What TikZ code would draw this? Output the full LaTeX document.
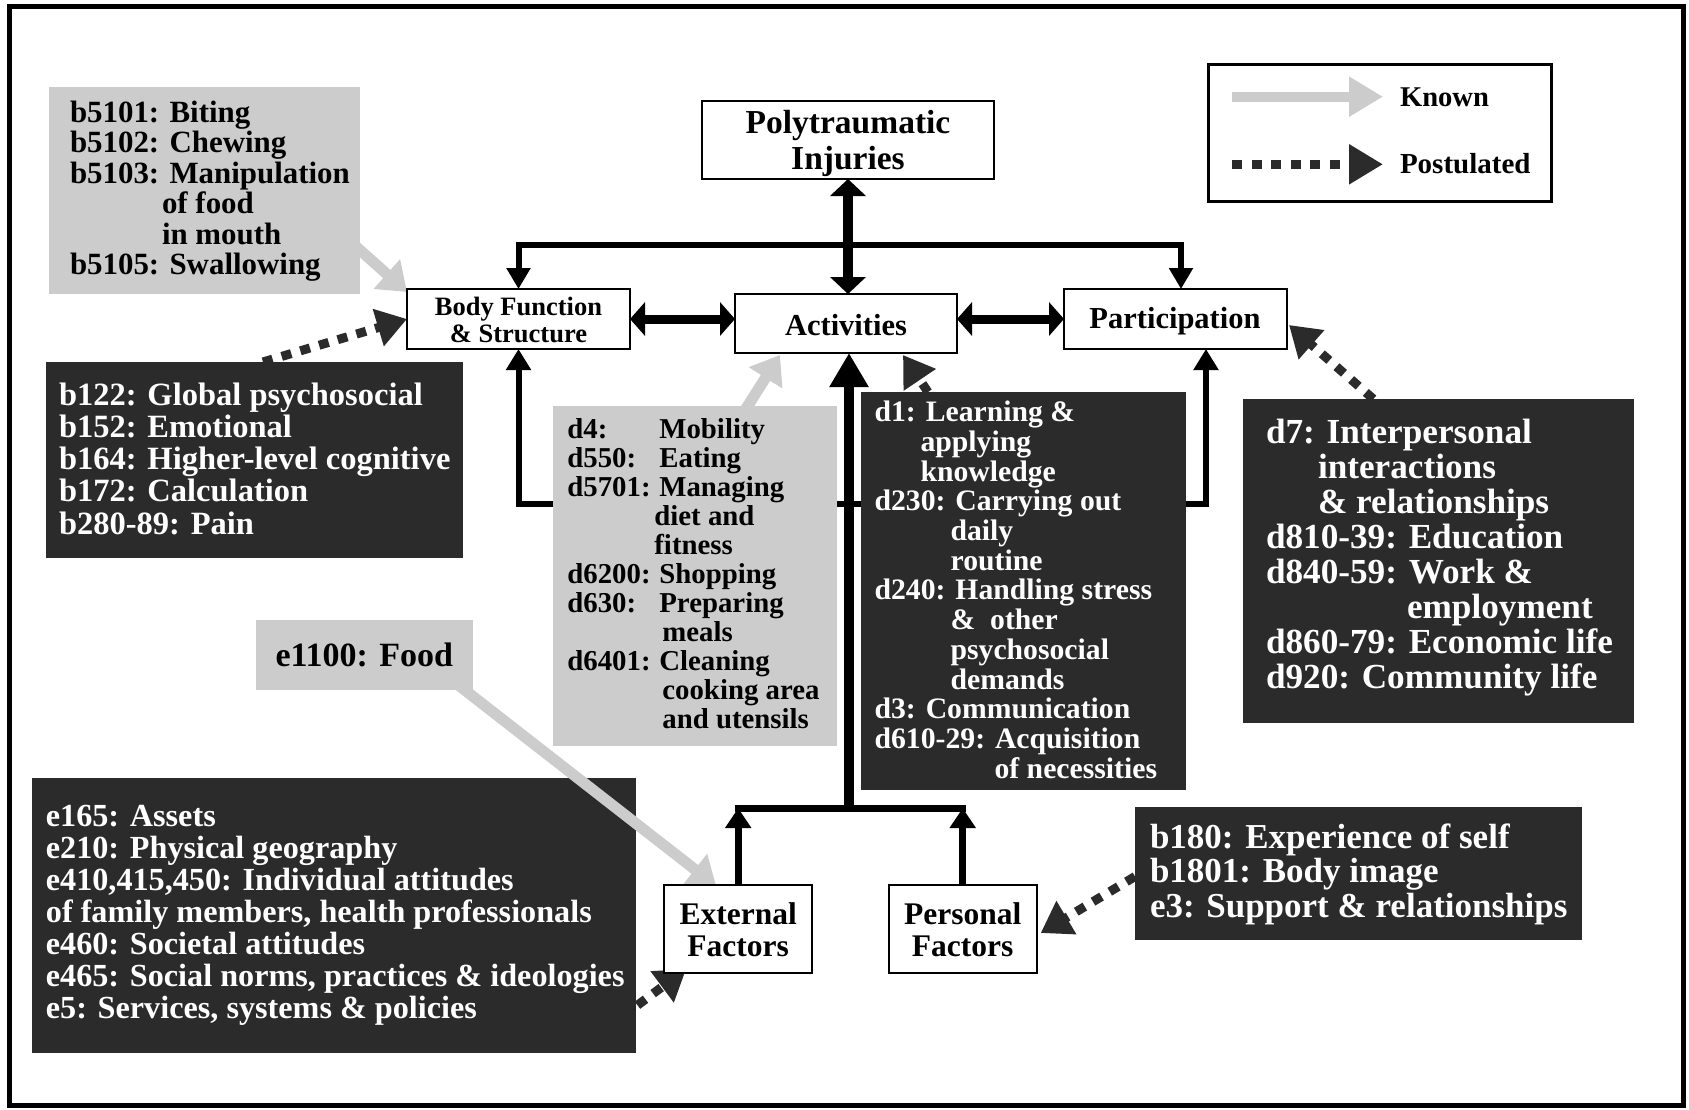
\documentclass[tikz,border=0pt]{standalone}
\usepackage{fontspec}
\setmainfont{Liberation Serif}
\usetikzlibrary{arrows.meta,calc}
\definecolor{dk}{HTML}{2B2B2B}
\definecolor{lg}{HTML}{CCCCCC}
\newcommand{\TL}[1]{\begin{tabular}[t]{@{}l@{}}#1\end{tabular}}
\newcommand{\TC}[1]{\begin{tabular}[t]{@{}c@{}}#1\end{tabular}}
\newcommand{\ind}[1]{\hspace*{#1pt}}
\newcommand{\lab}[2]{\makebox[#1pt][l]{#2}}
\pgfdeclarelayer{Lbg}
\pgfdeclarelayer{Lzero}
\pgfdeclarelayer{Lone}
\pgfdeclarelayer{Ltwo}
\pgfsetlayers{Lbg,Lzero,Lone,Ltwo,main}
\begin{document}
\begin{tikzpicture}[x=1pt,y=-1pt,
  wbox/.style={draw=black, line width=2pt, fill=white, inner sep=0pt, outer sep=0pt, anchor=north west},
  dbox/.style={fill=dk, inner sep=0pt, outer sep=0pt, anchor=north west},
  gbox/.style={fill=lg, inner sep=0pt, outer sep=0pt, anchor=north west},
  lt/.style={inner sep=0pt, outer sep=0pt, anchor=base west},
  ct/.style={inner sep=0pt, outer sep=0pt, anchor=base},
  fs/.style 2 args={font=\fontsize{#1}{#2}\selectfont\bfseries},
  known/.style={draw=lg, line width=11pt, -{Triangle[length=27pt,width=38pt]}},
  post/.style={draw=dk, line width=9pt, dash pattern=on 10pt off 9.5pt, -{Triangle[length=30pt,width=37pt]}},
]
\useasboundingbox (0,0) rectangle (1689,1109);
\begin{pgfonlayer}{Lbg}
\fill[white] (0,0) rectangle (1689,1109);
\draw[line width=5pt] (9,6) rectangle (1683,1105);
\end{pgfonlayer}

% ---------- white boxes (main layer) ----------
\node[wbox, line width=2.5pt, minimum width=292pt, minimum height=78pt] (poly) at (702,101) {};
\node[ct, fs={33.5}{36}] (polyt) at (848,133.3) {\TC{Polytraumatic\\Injuries}};
\node[wbox, minimum width=223pt, minimum height=60pt] (bf) at (407,289) {};
\node[ct, fs={26.5}{27}] (bft) at (518.5,315) {\TC{Body Function\\\& Structure}};
\node[wbox, minimum width=222pt, minimum height=59pt] (act) at (735,294) {};
\node[ct, fs={30.5}{30}] (actt) at (846,335) {Activities};
\node[wbox, minimum width=223pt, minimum height=60pt] (part) at (1064,289) {};
\node[ct, fs={30.5}{30}] (partt) at (1175,328.3) {Participation};
\node[wbox, minimum width=148pt, minimum height=88pt] (ext) at (664.2,885) {};
\node[ct, fs={31.5}{32.4}] (extt) at (738.2,924.3) {\TC{External\\Factors}};
\node[wbox, minimum width=148pt, minimum height=88pt] (pers) at (888.7,885) {};
\node[ct, fs={31.5}{32.4}] (perst) at (962.7,924.3) {\TC{Personal\\Factors}};

% legend
\node[draw=black, line width=3pt, inner sep=0pt, outer sep=0pt, anchor=north west, minimum width=343pt, minimum height=137pt] (legend) at (1208,64) {};
\coordinate (k1) at (1232,96.7);
\coordinate (k2) at (1383,96.7);
\coordinate (p1) at (1232,164.3);
\coordinate (p2) at (1383,164.3);
\draw[known, line width=10pt, -{Triangle[length=34pt,width=38pt]}] (k1) -- (k2);
\draw[post, -{Triangle[length=34pt,width=38pt]}] (p1) -- (p2);
\node[lt, fs={28.6}{30}] (kt) at (1400,106.7) {Known};
\node[lt, fs={29}{30}] (pt) at (1400,173.3) {Postulated};

% ---------- gray / dark boxes ----------
\begin{pgfonlayer}{Lone}
\node[gbox, minimum width=311pt, minimum height=207pt] (b51) at (49,87) {};
\node[lt, fs={30.9}{30.2}] (b51t) at (70,122) {\TL{b5101: Biting\\ b5102: Chewing\\ b5103: Manipulation\\ \ind{92}of food\\ \ind{92}in mouth\\ b5105: Swallowing}};

\node[dbox, minimum width=417pt, minimum height=196pt] (b122) at (46,362) {};
\node[lt, text=white, fs={32.5}{32.3}] (b122t) at (59,405) {\TL{b122: Global psychosocial\\ b152: Emotional\\ b164: Higher-level cognitive\\ b172: Calculation\\ b280-89: Pain}};

\node[gbox, minimum width=284pt, minimum height=340pt] (d4) at (552.6,406) {};
\node[lt, fs={28.8}{29}] (d4t) at (567.4,438.3) {\TL{\lab{92}{d4:}Mobility\\ \lab{92}{d550:}Eating\\ \lab{92}{d5701:}Managing\\ \ind{87}diet and\\ \ind{87}fitness\\ \lab{92}{d6200:}Shopping\\ \lab{92}{d630:}Preparing\\ \ind{95}meals\\ \lab{92}{d6401:}Cleaning\\ \ind{95}cooking area\\ \ind{95}and utensils}};

\node[dbox, minimum width=325pt, minimum height=398pt] (d1) at (861,392) {};
\node[lt, text=white, fs={29.7}{29.7}] (d1t) at (874.6,421.7) {\TL{d1: Learning \&\\ \ind{46}applying\\ \ind{46}knowledge\\ d230: Carrying out\\ \ind{76}daily\\ \ind{76}routine\\ d240: Handling stress\\ \ind{76}\&\ \ other\\ \ind{76}psychosocial\\ \ind{76}demands\\ d3: Communication\\ d610-29: Acquisition\\ \ind{120}of necessities}};

\node[dbox, minimum width=391pt, minimum height=324pt] (d7) at (1243.3,399) {};
\node[lt, text=white, fs={35.2}{35}] (d7t) at (1266,443.3) {\TL{d7: Interpersonal\\ \ind{52}interactions\\ \ind{52}\& relationships\\ d810-39: Education\\ d840-59: Work \&\\ \ind{141}employment\\ d860-79: Economic life\\ d920: Community life}};

\node[gbox, minimum width=217pt, minimum height=70pt] (e11) at (256,620) {};
\node[lt, fs={34}{34}] (e11t) at (275.5,666.7) {e1100: Food};

\node[dbox, minimum width=604pt, minimum height=275pt] (ebox) at (31.5,777.7) {};
\node[lt, text=white, fs={32.2}{31.9}] (eboxt) at (45.9,826.7) {\TL{e165: Assets\\ e210: Physical geography\\ e410,415,450: Individual attitudes\\ of family members, health professionals\\ e460: Societal attitudes\\ e465: Social norms, practices \& ideologies\\ e5: Services, systems \& policies}};

\node[dbox, minimum width=447pt, minimum height=133pt] (b180) at (1135,807) {};
\node[lt, text=white, fs={35}{34}] (b180t) at (1150,848.3) {\TL{b180: Experience of self\\ b1801: Body image\\ e3: Support \& relationships}};
\end{pgfonlayer}

% ---------- black connectors ----------
\coordinate (topbar) at (1181,245);
\coordinate (midbar) at (1206,504);
\coordinate (botbar) at (849,808);
\begin{pgfonlayer}{Lzero}
\draw[line width=10pt, {Triangle[length=17pt,width=35pt]}-{Triangle[length=17pt,width=35pt]}] (poly.south) -- (poly.south |- act.north);
\draw[line width=6pt, {Triangle[length=21pt,width=23pt]}-{Triangle[length=21pt,width=23pt]}] (bf.north) |- (topbar) -- (topbar |- part.north);
\draw[line width=9pt, {Triangle[length=15pt,width=33pt]}-{Triangle[length=15pt,width=33pt]}] (bf.east) -- (bf.east -| act.west);
\draw[line width=9pt, {Triangle[length=15pt,width=33pt]}-{Triangle[length=15pt,width=33pt]}] (part.west -| act.east) -- (part.west);
\draw[line width=6pt, {Triangle[length=21pt,width=24pt]}-{Triangle[length=21pt,width=24pt]}] (bf.south) |- (midbar) -- (midbar |- part.south);
\draw[line width=7pt, -{Triangle[length=20pt,width=25pt]}] (ext.north) -- (ext.north |- botbar);
\draw[line width=7pt, -{Triangle[length=20pt,width=25pt]}] (pers.north) -- (pers.north |- botbar);
\draw[line width=7pt, line cap=rect] (ext.north |- botbar) -- (pers.north |- botbar);
\draw[line width=10pt, -{Triangle[length=34pt,width=37pt]}] (botbar) -- (botbar |- act.south);
\end{pgfonlayer}

% ---------- known / postulated arrows ----------
\begin{pgfonlayer}{Ltwo}
\draw[known] ($(b51.south east)+(-8,-51)$) -- ($(bf.north west)+(0,3)$);
\draw[known] ($(d4.north west)+(190,8)$) -- ($(act.south west)+(45,2)$);
\draw[known] ($(e11.south east)+(-16,-6)$) -- ($(ext.north west)+(52,1)$);
\draw[post] ($(b122.north west)+(217,0)$) -- (bf.west);
\draw[post] ($(d1.north west)+(67,0)$) -- ($(act.south west)+(168,2)$);
\draw[post] ($(d7.north west)+(130,0)$) -- ($(part.east)+(2,6)$);
\draw[post] ($(ebox.east)+(2,90)$) -- ($(ext.south west)+(22,-4)$);
\draw[post] ($(b180.west)+(0,3)$) -- ($(pers.east)+(4,4)$);
\end{pgfonlayer}
\end{tikzpicture}
\end{document}
